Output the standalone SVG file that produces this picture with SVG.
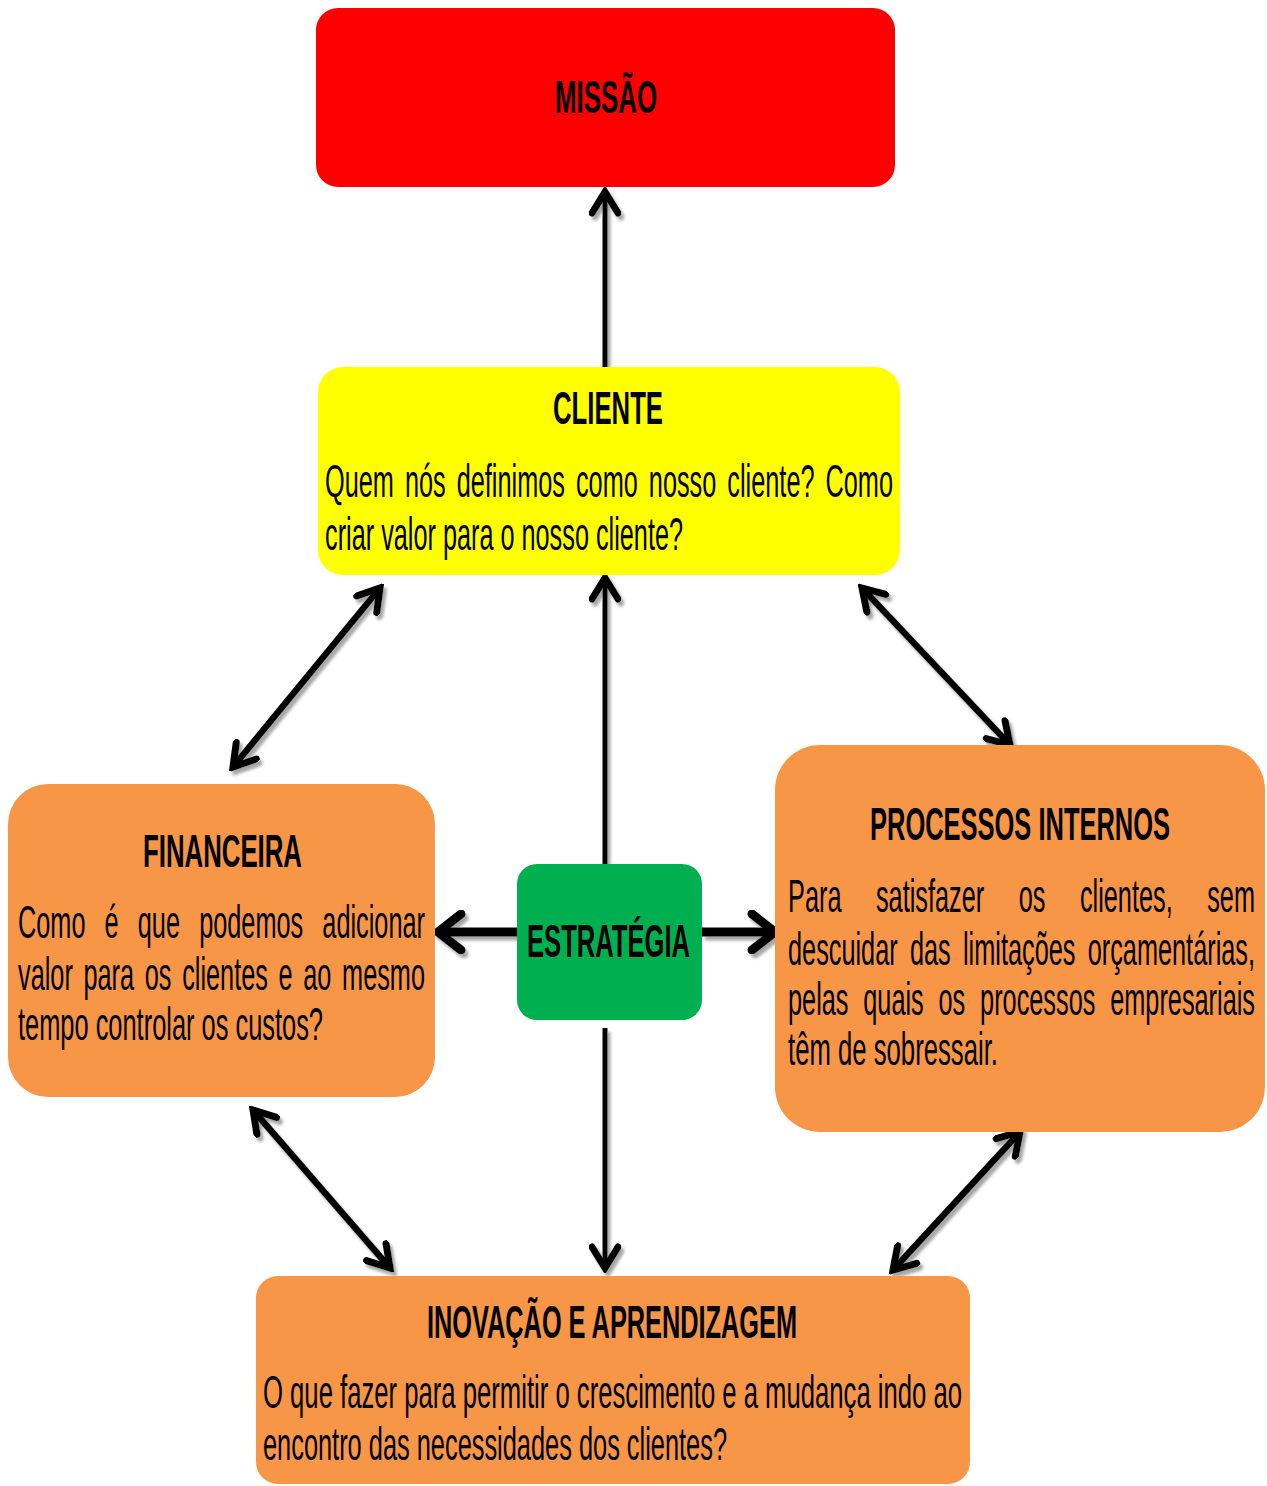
<svg xmlns="http://www.w3.org/2000/svg" width="1267" height="1486" viewBox="0 0 1267 1486">
<defs>
<style>
.t{font-family:"Liberation Sans",Arial,sans-serif;font-size:46px;fill:#000}
.b{font-weight:bold}
.red{fill:#FF0000}.yel{fill:#FFFF00}.org{fill:#F79646}.grn{fill:#00B050}
.c{fill:none;stroke:#000;stroke-width:5}
.cd{fill:none;stroke:#000;stroke-width:6.5}
.ct{fill:none;stroke:#000;stroke-width:9}
</style>
<marker id="h" viewBox="0 0 30 32" refX="25" refY="16" markerWidth="30" markerHeight="32" markerUnits="userSpaceOnUse" orient="auto-start-reverse">
<path d="M4,3 L25,16 L4,29" fill="none" stroke="#000" stroke-width="7" stroke-linecap="round"/>
</marker>
<marker id="hb" viewBox="0 0 34 44" refX="29" refY="22" markerWidth="34" markerHeight="44" markerUnits="userSpaceOnUse" orient="auto-start-reverse">
<path d="M6,4 L29,22 L6,40" fill="none" stroke="#000" stroke-width="9" stroke-linecap="round"/>
</marker>
<filter id="sh" x="-20%" y="-20%" width="140%" height="140%">
<feDropShadow dx="3" dy="4" stdDeviation="1.5" flood-color="#808080" flood-opacity="0.7"/>
</filter>
</defs>
<rect width="1267" height="1486" fill="#fff"/>

<g id="connectors" filter="url(#sh)">
<path class="c" d="M605,368 L605,192" marker-end="url(#h)"/>
<path class="c" d="M605,864 L605,578" marker-end="url(#h)"/>
<path class="c" d="M605,1028 L605,1268" marker-end="url(#h)"/>
<path class="ct" d="M517,932 L438,932" marker-end="url(#hb)"/>
<path class="ct" d="M702,932 L775,932" marker-end="url(#hb)"/>
<path class="cd" d="M233,767 L380,588" marker-start="url(#h)" marker-end="url(#h)"/>
<path class="cd" d="M862,588 L1010,745" marker-start="url(#h)" marker-end="url(#h)"/>
<path class="cd" d="M253,1110 L390,1268" marker-start="url(#h)" marker-end="url(#h)"/>
<path class="cd" d="M1020,1132 L893,1270" marker-start="url(#h)" marker-end="url(#h)"/>
</g>

<g id="missao">
<rect class="red" x="316" y="8" width="579" height="179" rx="22"/>
<text class="t b" x="555" y="113" textLength="102" lengthAdjust="spacingAndGlyphs">MISSÃO</text>
</g>

<g id="cliente">
<rect class="yel" x="318" y="367" width="582" height="208" rx="25"/>
<text class="t b" x="553" y="424" textLength="110" lengthAdjust="spacingAndGlyphs">CLIENTE</text>
<text class="t" x="325" y="497" word-spacing="7.2" textLength="568" lengthAdjust="spacingAndGlyphs">Quem nós definimos como nosso cliente? Como</text>
<text class="t" x="325" y="550" textLength="358" lengthAdjust="spacingAndGlyphs">criar valor para o nosso cliente?</text>
</g>

<g id="financeira">
<rect class="org" x="8" y="784" width="427" height="313" rx="40"/>
<text class="t b" x="143" y="867" textLength="159" lengthAdjust="spacingAndGlyphs">FINANCEIRA</text>
<text class="t" x="18" y="938" word-spacing="22" textLength="407" lengthAdjust="spacingAndGlyphs">Como é que podemos adicionar</text>
<text class="t" x="18" y="990" word-spacing="6.6" textLength="407" lengthAdjust="spacingAndGlyphs">valor para os clientes e ao mesmo</text>
<text class="t" x="18" y="1040" textLength="305" lengthAdjust="spacingAndGlyphs">tempo controlar os custos?</text>
</g>

<g id="estrategia">
<rect class="grn" x="517" y="864" width="185" height="156" rx="20"/>
<text class="t b" x="527" y="957" textLength="163" lengthAdjust="spacingAndGlyphs">ESTRATÉGIA</text>
</g>

<g id="processos">
<rect class="org" x="775" y="745" width="490" height="387" rx="45"/>
<text class="t b" x="870" y="840" textLength="300" lengthAdjust="spacingAndGlyphs">PROCESSOS INTERNOS</text>
<text class="t" x="788" y="912" word-spacing="49.9" textLength="467" lengthAdjust="spacingAndGlyphs">Para satisfazer os clientes, sem</text>
<text class="t" x="788" y="965" word-spacing="9.5" textLength="467" lengthAdjust="spacingAndGlyphs">descuidar das limitações orçamentárias,</text>
<text class="t" x="788" y="1015" word-spacing="14.1" textLength="467" lengthAdjust="spacingAndGlyphs">pelas quais os processos empresariais</text>
<text class="t" x="788" y="1065" textLength="210" lengthAdjust="spacingAndGlyphs">têm de sobressair.</text>
</g>

<g id="inovacao">
<rect class="org" x="256" y="1276" width="714" height="208" rx="22"/>
<text class="t b" x="427" y="1338" textLength="370" lengthAdjust="spacingAndGlyphs">INOVAÇÃO E APRENDIZAGEM</text>
<text class="t" x="263" y="1408" textLength="699" lengthAdjust="spacingAndGlyphs">O que fazer para permitir o crescimento e a mudança indo ao</text>
<text class="t" x="263" y="1460" textLength="464" lengthAdjust="spacingAndGlyphs">encontro das necessidades dos clientes?</text>
</g>
</svg>
